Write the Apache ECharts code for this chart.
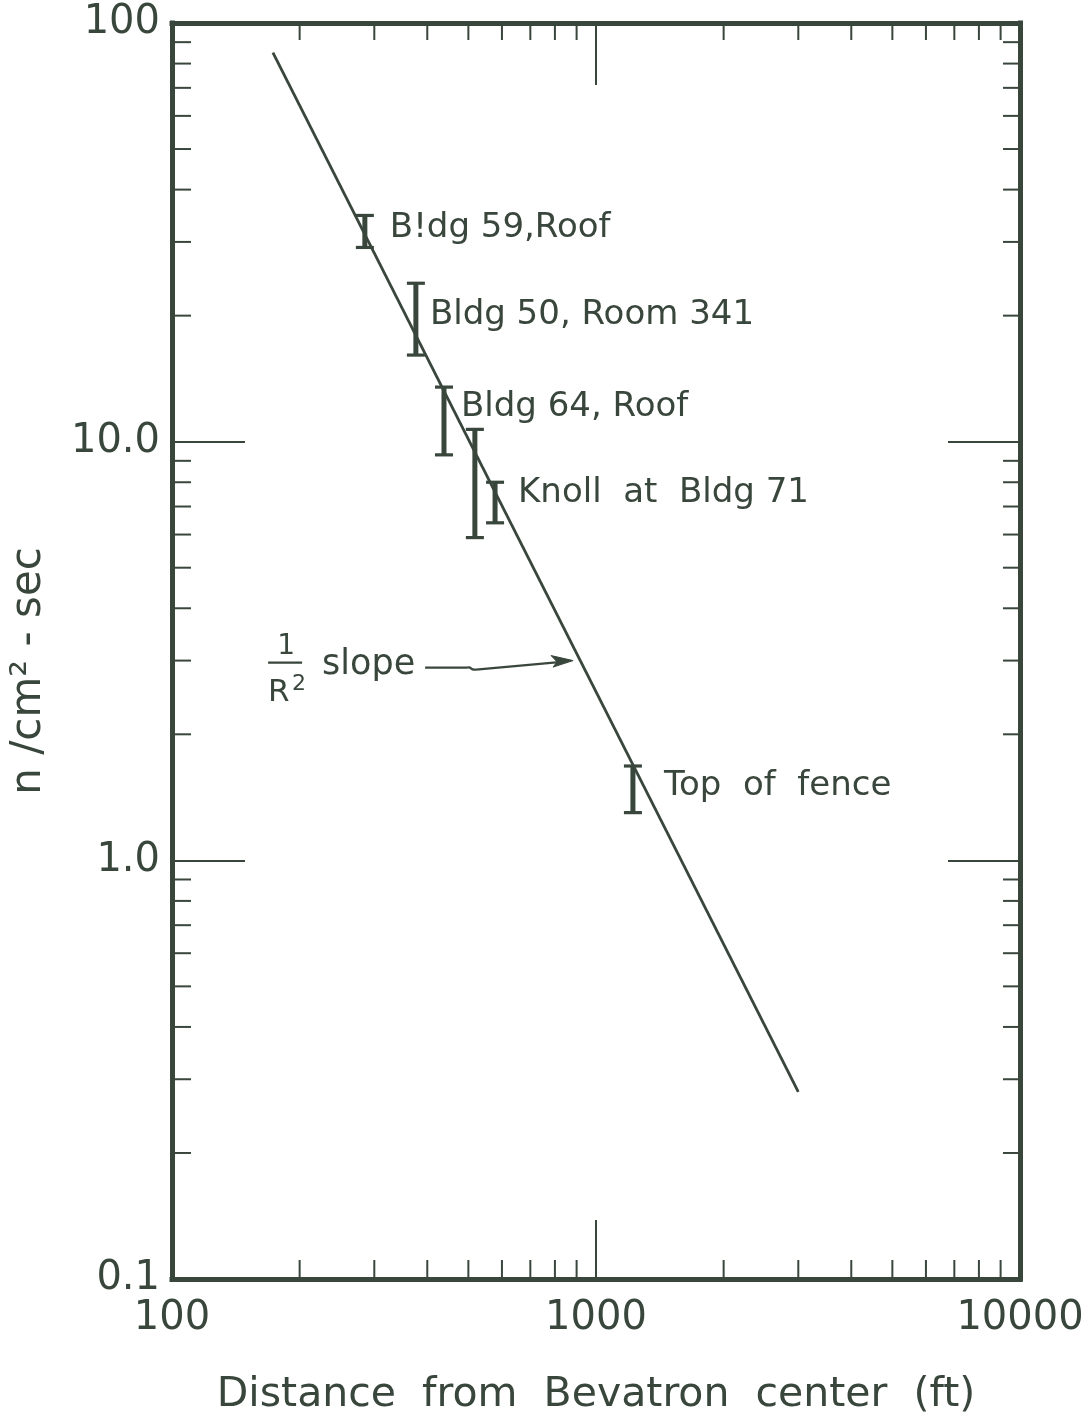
<!DOCTYPE html>
<html>
<head>
<meta charset="utf-8">
<script src="https://cdn.jsdelivr.net/npm/echarts@6/dist/echarts.min.js"></script>
<style>
  html, body { margin: 0; padding: 0; background: #ffffff; }
  #chart { width: 1090px; height: 1419px; }
</style>
</head>
<body>
<div id="chart"></div>
<script>
// Neutron flux around the Bevatron versus distance from its center (log-log).

// Fitted 1/R^2 line: end points (distance in ft, flux in n/cm2-sec)
const fitLineX = [173, 3000];
const fitLineY = [85, 0.28];

// Measuring stations: distance (ft) and the measured flux range
const stationNames    = ['B!dg 59,Roof', 'Bldg 50, Room 341', 'Bldg 64, Roof', '', 'Knoll  at  Bldg 71', 'Top  of  fence'];
const stationDistance = [285, 376, 438, 518, 578, 1222];
const stationLow      = [29.1, 16.1, 9.3, 5.9, 6.4, 1.30];
const stationHigh     = [34.7, 23.9, 13.5, 10.7, 8.0, 1.68];

// Axes
const xRange = [100, 10000];
const yRange = [0.1, 100];
const xTickValues = [100, 1000, 10000];
const xTickLabels = ['100', '1000', '10000'];
const yTickValues = [0.1, 1, 10, 100];
const yTickLabels = ['0.1', '1.0', '10.0', '100'];
const xMinorTicks = [200, 300, 400, 500, 600, 700, 800, 900, 2000, 3000, 4000, 5000, 6000, 7000, 8000, 9000];
const yMinorTicks = [0.2, 0.3, 0.4, 0.5, 0.6, 0.7, 0.8, 0.9, 2, 3, 4, 5, 6, 7, 8, 9, 20, 30, 40, 50, 60, 70, 80, 90];

// Where the "1/R^2 slope" arrow points
const slopeArrowTip = [883, 3.0];

const INK = '#39463c';
const FONT = '"DejaVu Sans", sans-serif';

// label offsets (px) from each error bar: right of the stem, around its middle
const labelNudge = [[25, -3], [14, -4], [17, -14], [0, 0], [23, -9], [31, -3]];

function tickLabel(values, labels) {
  return function (v) {
    const i = values.findIndex(t => Math.abs(Math.log10(t) - Math.log10(v)) < 1e-6);
    return i >= 0 ? labels[i] : '';
  };
}

function renderErrorBar(params, api) {
  const i = params.dataIndex;
  const x = api.value(0);
  const pLo = api.coord([x, api.value(1)]);
  const pHi = api.coord([x, api.value(2)]);
  const cap = 9;
  const children = [
    { type: 'line', shape: { x1: pLo[0], y1: pLo[1], x2: pHi[0], y2: pHi[1] },
      style: { stroke: INK, lineWidth: 5 } },
    { type: 'line', shape: { x1: pHi[0] - cap, y1: pHi[1], x2: pHi[0] + cap, y2: pHi[1] },
      style: { stroke: INK, lineWidth: 3.2 } },
    { type: 'line', shape: { x1: pLo[0] - cap, y1: pLo[1], x2: pLo[0] + cap, y2: pLo[1] },
      style: { stroke: INK, lineWidth: 3.2 } }
  ];
  const name = stationNames[i];
  if (name) {
    children.push({
      type: 'text',
      x: pHi[0] + labelNudge[i][0],
      y: (pLo[1] + pHi[1]) / 2 + labelNudge[i][1],
      style: { text: name, font: '34px ' + FONT, fill: INK, align: 'left', verticalAlign: 'middle' }
    });
  }
  return { type: 'group', children: children };
}

function renderXMinor(params, api) {
  const v = api.value(0);
  const pb = api.coord([v, yRange[0]]);
  const pt = api.coord([v, yRange[1]]);
  return { type: 'group', children: [
    { type: 'line', shape: { x1: pb[0], y1: pb[1], x2: pb[0], y2: pb[1] - 19 }, style: { stroke: INK, lineWidth: 2 } },
    { type: 'line', shape: { x1: pt[0], y1: pt[1], x2: pt[0], y2: pt[1] + 17 }, style: { stroke: INK, lineWidth: 2 } }
  ] };
}

function renderYMinor(params, api) {
  const v = api.value(1);
  const pl = api.coord([xRange[0], v]);
  const pr = api.coord([xRange[1], v]);
  return { type: 'group', children: [
    { type: 'line', shape: { x1: pl[0], y1: pl[1], x2: pl[0] + 19, y2: pl[1] }, style: { stroke: INK, lineWidth: 2 } },
    { type: 'line', shape: { x1: pr[0], y1: pr[1], x2: pr[0] - 17, y2: pr[1] }, style: { stroke: INK, lineWidth: 2 } }
  ] };
}

function renderSlopeNote(params, api) {
  const p = api.coord([api.value(0), api.value(1)]);
  const X = p[0], Y = p[1];
  const stroke = { stroke: INK, lineWidth: 2.2, fill: null };
  return { type: 'group', children: [
    { type: 'line', shape: { x1: X - 148, y1: Y + 7, x2: X - 106, y2: Y + 7 }, style: stroke },
    { type: 'bezierCurve', shape: { x1: X - 106, y1: Y + 7, cpx1: X - 100, cpy1: Y + 6, cpx2: X - 104, cpy2: Y + 10, x2: X - 97, y2: Y + 9 }, style: stroke },
    { type: 'line', shape: { x1: X - 97, y1: Y + 9, x2: X - 14, y2: Y + 1.5 }, style: stroke },
    { type: 'polygon', shape: { points: [[X, Y], [X - 22, Y - 5], [X - 16, Y + 1.3], [X - 20, Y + 6.5]] },
      style: { fill: INK, stroke: INK, lineWidth: 1 } },
    { type: 'text', x: X - 251, y: Y + 4,
      style: { text: 'slope', font: '35px ' + FONT, fill: INK, align: 'left', verticalAlign: 'middle' } },
    { type: 'text', x: X - 287, y: Y - 14,
      style: { text: '1', font: '28px ' + FONT, fill: INK, align: 'center', verticalAlign: 'middle' } },
    { type: 'line', shape: { x1: X - 305, y1: Y + 2, x2: X - 271, y2: Y + 2 }, style: stroke },
    { type: 'text', x: X - 305, y: Y + 32,
      style: { text: 'R', font: '31px ' + FONT, fill: INK, align: 'left', verticalAlign: 'middle' } },
    { type: 'text', x: X - 281, y: Y + 24,
      style: { text: '2', font: '22px ' + FONT, fill: INK, align: 'left', verticalAlign: 'middle' } }
  ] };
}

const frameLine = { show: true, lineStyle: { color: INK, width: 5, cap: 'square' } };

const chart = echarts.init(document.getElementById('chart'), null, { renderer: 'canvas' });
chart.setOption({
  backgroundColor: '#ffffff',
  animation: false,
  grid: { left: 172, top: 23, right: 70, bottom: 140, containLabel: false, outerBoundsMode: 'none' },
  xAxis: [
    {
      type: 'log', logBase: 10, min: xRange[0], max: xRange[1], position: 'bottom',
      axisLine: frameLine,
      axisTick: { show: true, inside: true, length: 59, lineStyle: { color: INK, width: 2 } },
      axisLabel: { show: true, margin: 20, color: INK, fontFamily: FONT, fontSize: 40,
                   formatter: tickLabel(xTickValues, xTickLabels) },
      splitLine: { show: false },
      name: 'Distance  from  Bevatron  center  (ft)',
      nameLocation: 'middle', nameGap: 96,
      nameTextStyle: { color: INK, fontFamily: FONT, fontSize: 41, verticalAlign: 'top' }
    },
    {
      type: 'log', logBase: 10, min: xRange[0], max: xRange[1], position: 'top',
      axisLine: frameLine,
      axisTick: { show: true, inside: true, length: 62, lineStyle: { color: INK, width: 2 } },
      axisLabel: { show: false },
      splitLine: { show: false }
    }
  ],
  yAxis: [
    {
      type: 'log', logBase: 10, min: yRange[0], max: yRange[1], position: 'left',
      axisLine: frameLine,
      axisTick: { show: true, inside: true, length: 73, lineStyle: { color: INK, width: 2 } },
      axisLabel: { show: true, margin: 12, color: INK, fontFamily: FONT, fontSize: 40,
                   formatter: tickLabel(yTickValues, yTickLabels) },
      splitLine: { show: false },
      name: 'n /cm² - sec',
      nameLocation: 'middle', nameGap: 122, nameRotate: 90,
      nameTextStyle: { color: INK, fontFamily: FONT, fontSize: 42, padding: [0, 40, 0, 0] }
    },
    {
      type: 'log', logBase: 10, min: yRange[0], max: yRange[1], position: 'right',
      axisLine: frameLine,
      axisTick: { show: true, inside: true, length: 72, lineStyle: { color: INK, width: 2 } },
      axisLabel: { show: false },
      splitLine: { show: false }
    }
  ],
  series: [
    {
      type: 'custom', name: 'minor x ticks', xAxisIndex: 0, yAxisIndex: 0, silent: true, clip: false,
      data: xMinorTicks.map(v => [v, yRange[0]]),
      renderItem: renderXMinor
    },
    {
      type: 'custom', name: 'minor y ticks', xAxisIndex: 0, yAxisIndex: 0, silent: true, clip: false,
      data: yMinorTicks.map(v => [xRange[0], v]),
      renderItem: renderYMinor
    },
    {
      type: 'line', name: '1/R² fit', xAxisIndex: 0, yAxisIndex: 0, silent: true,
      data: fitLineX.map((x, i) => [x, fitLineY[i]]),
      showSymbol: false, symbol: 'none',
      lineStyle: { color: INK, width: 2.8 }
    },
    {
      type: 'custom', name: 'stations', xAxisIndex: 0, yAxisIndex: 0, silent: true, clip: false,
      data: stationDistance.map((d, i) => [d, stationLow[i], stationHigh[i]]),
      encode: { x: 0, y: [1, 2] },
      renderItem: renderErrorBar
    },
    {
      type: 'custom', name: 'slope note', xAxisIndex: 0, yAxisIndex: 0, silent: true, clip: false,
      data: [slopeArrowTip],
      renderItem: renderSlopeNote
    }
  ]
});
</script>
</body>
</html>
